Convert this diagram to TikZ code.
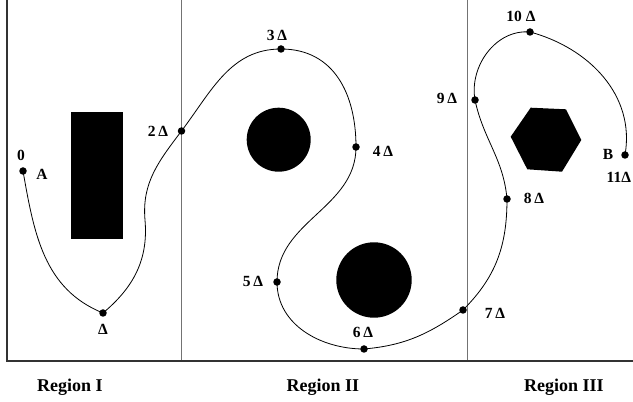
\documentclass[tikz,border=0pt]{standalone}
\usepackage{fontspec}
\setmainfont{Liberation Serif}
\usepackage{tikz}
\usetikzlibrary{positioning}

\tikzset{
  wpt/.style={circle, fill=black, inner sep=0pt, minimum size=7.5pt},
  lbl/.style={inner sep=0pt, font=\fontsize{15.5}{18}\selectfont\bfseries},
  reglbl/.style={inner sep=0pt, font=\fontsize{18}{21}\selectfont\bfseries},
  obst/.style={fill=black, draw=none},
  frameline/.style={line width=1.1pt, black!80},
  divline/.style={line width=1pt, black!55},
  route/.style={line width=0.8pt, black}
}

\begin{document}
\begin{tikzpicture}[x=1pt, y=1pt]
    \useasboundingbox (0,0) rectangle (633,402);

    % frame and region borders
    \draw[divline] (181.5,41) -- (181.5,402);
    \draw[divline] (467,41) -- (467,402);
    \draw[frameline] (7,402) -- (7,41) -- (633,41);

    % obstacles
    \fill[obst] (70.7,163) rectangle (122.7,290.3);
    \fill[obst] (278.7,262.3) circle (32);
    \fill[obst] (374,122) circle (37.7);
    \fill[obst] (510.7,265.3) -- (530.7,294.3) -- (566,292.7)
      -- (581.3,262) -- (562,230.3) -- (527.3,232.7) -- cycle;

    % waypoints
    \node[wpt] (a)   at (23,231) {};
    \node[wpt] (d1)  at (103,89) {};
    \node[wpt] (d2)  at (181.5,271) {};
    \node[wpt] (d3)  at (281,353) {};
    \node[wpt] (d4)  at (356,255) {};
    \node[wpt] (d5)  at (277,120) {};
    \node[wpt] (d6)  at (364,53) {};
    \node[wpt] (d7)  at (463,92) {};
    \node[wpt] (d8)  at (507,203) {};
    \node[wpt] (d9)  at (475,302) {};
    \node[wpt] (d10) at (530,370) {};
    \node[wpt] (b)   at (625,247) {};
    \coordinate (kink) at (145,182);

    % route
    \draw[route] (a.center) to[out=-80, in=158] (d1.center)
      to[out=40, in=-85] (kink)
      to[out=95, in=233] (d2.center)
      to[out=53, in=180] (d3.center)
      to[out=0, in=90, looseness=1.1] (d4.center)
      to[out=-90, in=90] (d5.center)
      to[out=-90, in=180] (d6.center)
      to[out=5, in=215] (d7.center)
      to[out=45, in=-90] (d8.center)
      to[out=95, in=-78] (d9.center)
      to[out=100, in=175] (d10.center)
      to[out=-15, in=80] (b.center);

    % labels
    \node[lbl] at (21,247) {0};
    \node[lbl] at (42,228) {A};
    \node[lbl] at (103,73) {Δ};
    \node[lbl] at (158,271) {2\,Δ};
    \node[lbl] at (277,367) {3\,Δ};
    \node[lbl] at (383,251) {4\,Δ};
    \node[lbl] at (253,121) {5\,Δ};
    \node[lbl] at (363,70) {6\,Δ};
    \node[lbl] at (495,89) {7\,Δ};
    \node[lbl] at (534,204) {8\,Δ};
    \node[lbl] at (447,304) {9\,Δ};
    \node[lbl] at (521,386) {10 Δ};
    \node[lbl] at (608,248) {B};
    \node[lbl, anchor=west] at (606.5,225) {11Δ};

    \node[reglbl] at (70,15) {Region I};
    \node[reglbl] at (323,15) {Region II};
    \node[reglbl] at (564,15) {Region III};
\end{tikzpicture}
\end{document}
